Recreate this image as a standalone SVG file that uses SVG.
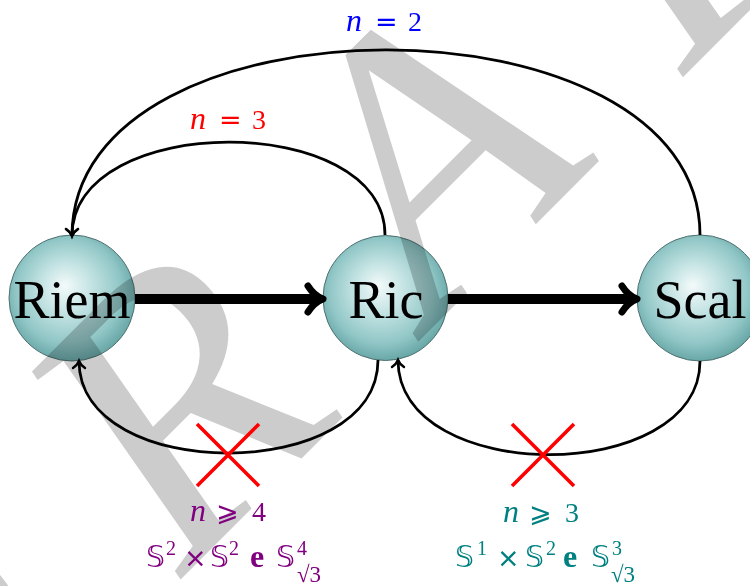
<svg xmlns="http://www.w3.org/2000/svg" width="750" height="586" viewBox="0 0 750 586">
<defs>
<radialGradient id="ball" cx="48%" cy="46%" r="55%" fx="44%" fy="40%">
<stop offset="0" stop-color="#f4fafa"/>
<stop offset="0.35" stop-color="#c6e4e4"/>
<stop offset="0.75" stop-color="#92c7c7"/>
<stop offset="1" stop-color="#66a5a5"/>
</radialGradient>
<marker id="thick" markerUnits="userSpaceOnUse" viewBox="-24 -20 36 40" refX="-6" refY="0" markerWidth="36" markerHeight="40" orient="auto" overflow="visible">
<path d="M-15,-13 C-10,-5 -4,-1.5 0,0 C-4,1.5 -10,5 -15,13" fill="none" stroke="#000" stroke-width="7" stroke-linecap="round" stroke-linejoin="round"/>
</marker>
<marker id="thin" markerUnits="userSpaceOnUse" viewBox="-12 -10 16 20" refX="0" refY="0" markerWidth="16" markerHeight="20" orient="auto" overflow="visible">
<path d="M-7,-6 C-5,-3 -2,-0.8 0,0 C-2,0.8 -5,3 -7,6" fill="none" stroke="#000" stroke-width="2.4" stroke-linecap="round"/>
</marker>
</defs>
<style>
.node circle{fill:url(#ball);stroke:#4d7070;stroke-width:1}
.node text{font-family:"Liberation Serif",serif;font-size:54px;fill:#000;text-anchor:middle}
.arc{fill:none;stroke:#000;stroke-width:2.8;marker-end:url(#thin)}
.big{fill:none;stroke:#000;stroke-width:10;marker-end:url(#thick)}
.cross{stroke:#ff0000;stroke-width:3.6;fill:none}
.m{font-family:"Liberation Serif",serif;font-size:28px}
.it{font-style:italic;font-size:32px}
.sym{font-family:"DejaVu Sans",sans-serif;font-size:27px}
.ds{font-family:"DejaVu Sans","DejaVu Serif",sans-serif;font-size:30px}
.sc{font-size:20px}
.rt{font-size:23px}
.bf{font-weight:bold;font-size:32px}
</style>
<rect width="750" height="586" fill="#fff"/>
<g id="riem" class="node"><circle cx="72" cy="298" r="63"/><text x="72" y="318">Riem</text></g>
<g id="ric" class="node"><circle cx="385.5" cy="298" r="62.5"/><text x="386" y="318">Ric</text></g>
<g id="scal" class="node"><circle cx="700" cy="298" r="63"/><text x="700" y="318">Scal</text></g>
<g id="watermark" style="mix-blend-mode:multiply">
<text transform="translate(380,380) rotate(-45)" x="-678" y="0" font-family="Liberation Serif,serif" font-style="italic" font-size="385" letter-spacing="120" fill="#cccccc">DRAFT</text>
</g>
<g id="connectors">
<path class="big" d="M135,299 L317,299"/>
<path class="big" d="M448,299 L631,299"/>
<path class="arc" d="M385,235 C385,111 72,111 72,236"/>
<path class="arc" d="M700,235 C700,-12 72,-12 72,236"/>
<path class="arc" d="M378,360 C378,484 79,484 79,361"/>
<path class="arc" d="M700,361 C700,486 398,486 398,360"/>
<path class="cross" d="M197,424 L259,486 M259,424 L197,486"/>
<path class="cross" d="M512,424 L574,486 M574,424 L512,486"/>
</g>
<g id="labels">
<text class="m" fill="#0000ff" y="31"><tspan class="it" x="346">n</tspan><tspan class="sym" x="375">=</tspan><tspan x="408">2</tspan></text>
<text class="m" fill="#ff0000" y="129"><tspan class="it" x="190">n</tspan><tspan class="sym" x="219">=</tspan><tspan x="252">3</tspan></text>
<text class="m" fill="#800080" y="521"><tspan class="it" x="190">n</tspan><tspan class="sym" x="216">⩾</tspan><tspan x="252">4</tspan></text>
<text class="m" fill="#008080" y="522"><tspan class="it" x="503">n</tspan><tspan class="sym" x="529">⩾</tspan><tspan x="565">3</tspan></text>
<text class="m" fill="#800080"><tspan class="ds" x="146" y="567">𝕊</tspan><tspan class="sc" x="166" y="555">2</tspan><tspan class="sym" x="184" y="567">×</tspan><tspan class="ds" x="210" y="567">𝕊</tspan><tspan class="sc" x="229" y="555">2</tspan><tspan class="bf" x="250" y="567">e</tspan><tspan class="ds" x="276" y="567">𝕊</tspan><tspan class="sc" x="297" y="555">4</tspan><tspan class="rt" x="297" y="582">√3</tspan></text>
<text class="m" fill="#008080"><tspan class="ds" x="455" y="567">𝕊</tspan><tspan class="sc" x="477" y="555">1</tspan><tspan class="sym" x="497" y="567">×</tspan><tspan class="ds" x="525" y="567">𝕊</tspan><tspan class="sc" x="546" y="555">2</tspan><tspan class="bf" x="563" y="567">e</tspan><tspan class="ds" x="591" y="567">𝕊</tspan><tspan class="sc" x="612" y="555">3</tspan><tspan class="rt" x="611" y="582">√3</tspan></text>
</g>
</svg>
